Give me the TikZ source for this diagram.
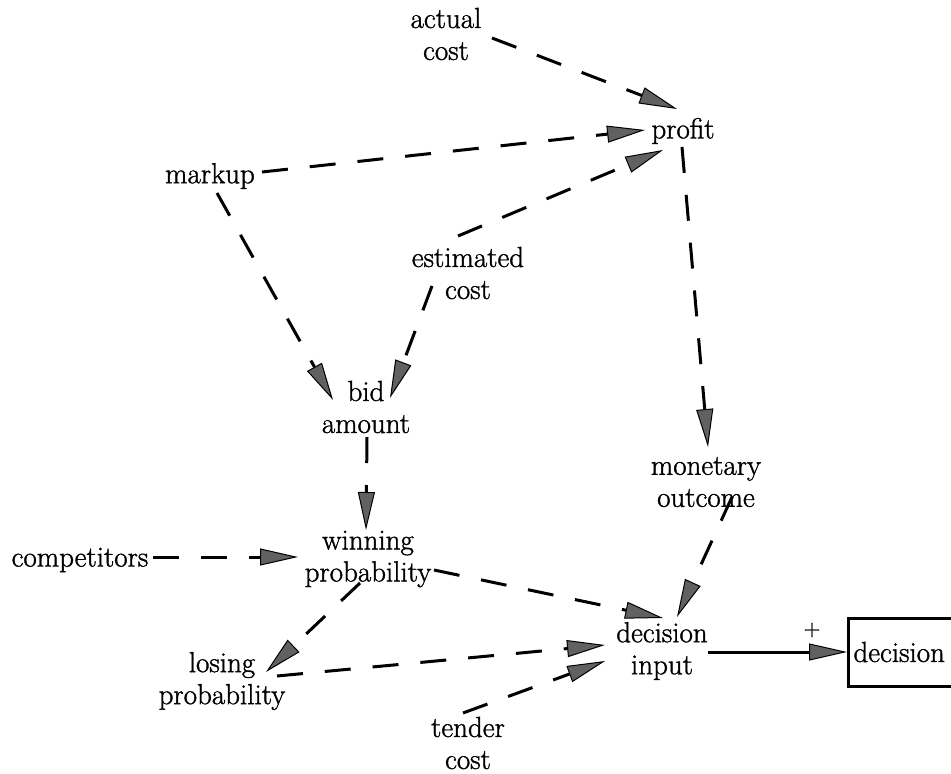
\documentclass[tikz,border=0pt]{standalone}
\usepackage{fontspec}
\newfontfamily\labelfont{Latin Modern Roman}[FakeBold=1.2]
\usetikzlibrary{arrows.meta,calc}
\begin{document}
\begin{tikzpicture}[x=1pt,y=-1pt,
  lbl/.style={align=center,inner sep=0pt,font=\labelfont\fontsize{29}{32}\selectfont},
  tip/.style={-{Triangle[length=38pt,width=17pt,line width=1pt,fill=black!62]}},
  dep/.style={line width=3pt,dash pattern=on 26pt off 22pt,tip},
  inf/.style={line width=3pt,tip},
  choice/.style={draw,line width=3pt,anchor=west,minimum height=68pt,
    text width=100pt,align=left,inner xsep=5pt,inner ysep=0pt,
    font=\labelfont\fontsize{29}{32}\selectfont}]
\useasboundingbox (0,0) rectangle (951,774);

% chance and value nodes
\node[lbl] (actual)      at (446,34)  {actual\\cost};
\node[lbl] (profit)      at (683,131) {profit};
\node[lbl] (markup)      at (210,176) {markup};
\node[lbl] (estimated)   at (468,273) {estimated\\cost};
\node[lbl] (bid)         at (366,407) {bid\\amount};
\node[lbl] (monetary)    at (706,482) {monetary\\outcome};
\node[lbl] (competitors) at (80,560)  {competitors};
\node[lbl] (winning)     at (368,559) {winning\\probability};
\node[lbl] (losing)      at (222,681) {losing\\probability};
\node[lbl] (dinput)      at (662,651) {decision\\input};
\node[lbl] (tender)      at (468,743) {tender\\cost};

% decision node (runs off the right edge)
\node[choice] (decision) at (847,652) {decision};
\node[inner sep=0pt,font=\labelfont\fontsize{23}{24}\selectfont] (plus) at (812,630) {+};

% dependencies
\draw[dep] ($(actual)+(46,4)$)      -- ($(profit)+(-6,-22)$);
\draw[dep] ($(markup)+(52,-4)$)     -- ($(profit)+(-38,-1)$);
\draw[dep] ($(estimated)+(-10,-37)$) -- ($(profit)+(-20,19)$);
\draw[dep] ($(markup)+(7,17)$)      -- ($(bid)+(-33,-7)$);
\draw[dep] ($(estimated)+(-36,13)$) -- ($(bid)+(24,-9)$);
\draw[dep] ($(bid)+(1,30)$)         -- ($(winning)+(-2,-29)$);
\draw[dep] ($(profit)+(-1,16)$)     -- ($(monetary)+(2,-35)$);
\draw[dep] ($(monetary)+(26,15)$)   -- ($(dinput)+(15,-34)$);
\draw[dep] ($(competitors)+(73,-3)$) -- ($(winning)+(-70,-2)$);
\draw[dep] ($(winning)+(66,11)$)    -- ($(dinput)+(1,-33)$);
\draw[dep] ($(winning)+(-8,24)$)    -- ($(losing)+(44,-9)$);
\draw[dep] ($(losing)+(55,-5)$)     -- ($(dinput)+(-57,-6)$);
\draw[dep] ($(tender)+(-5,-30)$)    -- ($(dinput)+(-57,10)$);

% influence on the decision
\draw[inf] ($(dinput)+(46,1)$) -- (decision.west);
\end{tikzpicture}
\end{document}
